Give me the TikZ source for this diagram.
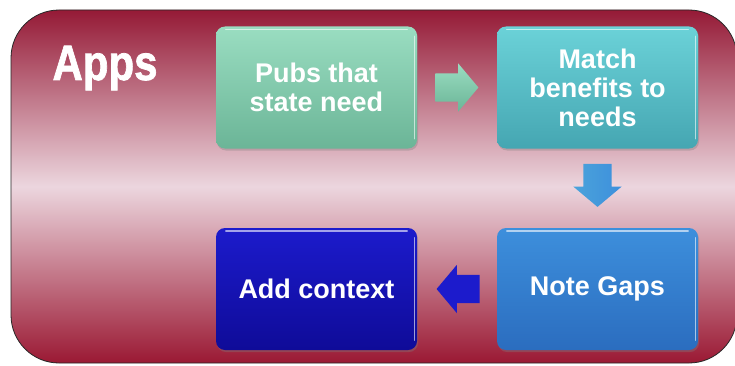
\documentclass[tikz,border=0pt]{standalone}
\usepackage{fontspec}
\setmainfont{Liberation Sans}
\newfontfamily\titlefont{Liberation Sans}[BoldFeatures={FakeBold=1.6}]
\usetikzlibrary{shapes.arrows,shadows,calc}
\definecolor{wine}{HTML}{951A36}
\definecolor{blush}{HTML}{ECD6DE}
\definecolor{mint}{HTML}{9ADDC1}
\definecolor{mintdark}{HTML}{6BB597}
\definecolor{aqua}{HTML}{6BD2D8}
\definecolor{aquadark}{HTML}{45A6B2}
\definecolor{sky}{HTML}{3D8FDC}
\definecolor{skydark}{HTML}{2B6DBF}
\definecolor{navy}{HTML}{1C1BCC}
\definecolor{navydark}{HTML}{0F0B98}
\tikzset{
  stage/.style={rounded corners=9pt, minimum width=201pt, minimum height=122pt,
    align=center, text=white, font=\bfseries\fontsize{27}{29}\selectfont,
    drop shadow={opacity=.35, shadow xshift=1pt, shadow yshift=-2pt}},
  flow/.style={single arrow, anchor=tail, inner xsep=0pt, inner ysep=14pt, minimum height=43pt,
    single arrow head extend=10pt, single arrow tip angle=100},
  glint/.style={white, opacity=.6, line width=1.4pt, line cap=round}
}
\begin{document}
\begin{tikzpicture}
\useasboundingbox (0,0) rectangle (735pt,365pt);
\begin{scope}[x=1pt,y=1pt]
  % panel
  \path[draw=black!85, line width=.8pt, rounded corners=48pt, top color=wine, bottom color=wine!95!red, middle color=blush]
    (11,2) rectangle (737,355);
  \node[font=\titlefont\bfseries\fontsize{42}{42}\selectfont, text=white, anchor=base, inner sep=0pt] (title) at (105,285) {\scalebox{1}[1.18]{Apps}};

  \node[stage, top color=mint, bottom color=mintdark] (pubs) at (316.5,277.5) {Pubs that\\state need};
  \node[stage, top color=aqua, bottom color=aquadark] (match) at (597.5,277.5) {Match\\benefits to\\needs};
  \node[stage, top color=sky, bottom color=skydark] (gaps) at (597.5,76) {Note Gaps};
  \node[stage, top color=navy, bottom color=navydark] (context) at (316.5,76) {Add context};

  \foreach \b in {pubs,match,gaps,context}{
    \draw[glint] ([xshift=10pt,yshift=-3pt]\b.north west) -- ([xshift=-10pt,yshift=-3pt]\b.north east);
    \draw[glint] ([xshift=-3pt,yshift=-10pt]\b.north east) -- ([xshift=-3pt,yshift=10pt]\b.south east);
  }

  \node[flow, top color=mint, bottom color=mintdark] (step1) at ([xshift=18pt]pubs.east) {};
  \node[flow, rotate=270, left color=sky!70!aqua, right color=sky] (step2) at ([yshift=-15pt]match.south) {};
  \node[flow, rotate=180, fill=navy] (step3) at ([xshift=-17pt]gaps.west) {};
\end{scope}
\end{tikzpicture}
\end{document}
